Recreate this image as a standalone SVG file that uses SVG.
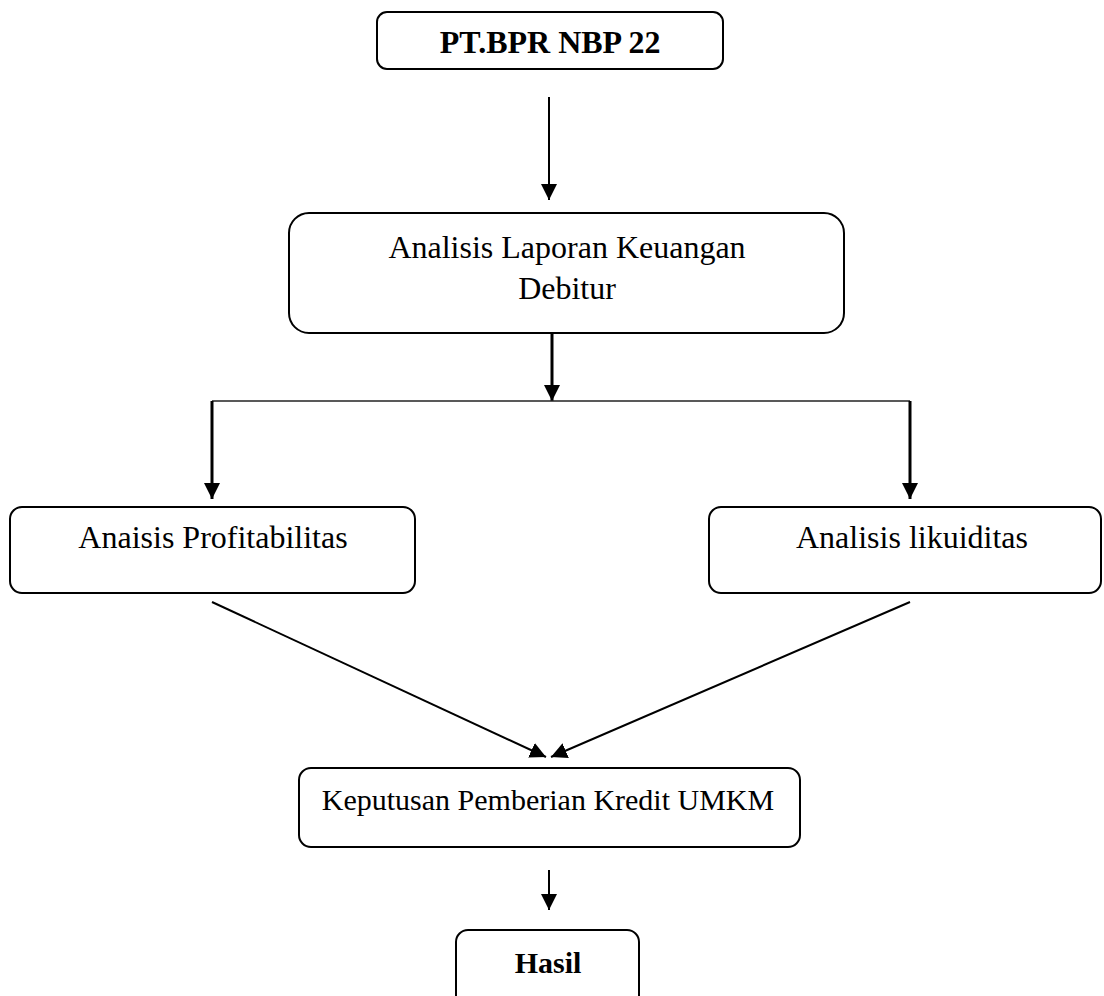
<svg xmlns="http://www.w3.org/2000/svg" width="1104" height="996" viewBox="0 0 1104 996">
<style>
.box{fill:#fff;stroke:#000;stroke-width:2}
.t{font-family:"Liberation Serif","Times New Roman",serif;font-size:32px;fill:#000;text-anchor:middle}
.b{font-weight:bold}
.c{stroke:#000;stroke-width:2;fill:none}
.c3{stroke:#000;stroke-width:3;fill:none}
.h{stroke:#222;stroke-width:1.6;fill:none}
</style>
<defs>
<marker id="ah" markerUnits="userSpaceOnUse" markerWidth="16" markerHeight="16" refX="16" refY="8" orient="auto" viewBox="0 0 16 16">
<path d="M0,0 L16,8 L0,16 z" fill="#000"/>
</marker>
</defs>
<rect width="1104" height="996" fill="#fff"/>
<g id="n-ptbpr">
<rect class="box" x="377" y="12" width="346" height="57" rx="10"/>
<text class="t b" x="550" y="53">PT.BPR NBP 22</text>
</g>
<g id="n-analisis">
<rect class="box" x="289" y="213" width="555" height="120" rx="20"/>
<text class="t" x="567" y="258">Analisis Laporan Keuangan</text>
<text class="t" x="567" y="299">Debitur</text>
</g>
<g id="n-profit">
<rect class="box" x="10" y="507" width="405" height="86" rx="12"/>
<text class="t" x="213" y="548">Anaisis Profitabilitas</text>
</g>
<g id="n-likuid">
<rect class="box" x="709" y="507" width="392" height="86" rx="12"/>
<text class="t" x="912" y="548">Analisis likuiditas</text>
</g>
<g id="n-keputusan">
<rect class="box" x="299" y="768" width="501" height="79" rx="12"/>
<text class="t" x="548" y="810" style="font-size:30px">Keputusan Pemberian Kredit UMKM</text>
</g>
<g id="n-hasil">
<rect class="box" x="456" y="930" width="183" height="90" rx="12"/>
<text class="t b" x="548" y="973" style="font-size:30px">Hasil</text>
</g>
<g id="connectors">
<line class="c" x1="549" y1="97" x2="549" y2="200" marker-end="url(#ah)"/>
<line class="c3" x1="552" y1="333" x2="552" y2="401" marker-end="url(#ah)"/>
<line class="h" x1="212" y1="401" x2="910" y2="401"/>
<line class="c3" x1="212" y1="401" x2="212" y2="499" marker-end="url(#ah)"/>
<line class="c3" x1="910" y1="401" x2="910" y2="499" marker-end="url(#ah)"/>
<line class="c" x1="212" y1="602" x2="546" y2="757" marker-end="url(#ah)"/>
<line class="c" x1="910" y1="602" x2="551" y2="757" marker-end="url(#ah)"/>
<line class="c" x1="549" y1="870" x2="549" y2="910" marker-end="url(#ah)"/>
</g>
</svg>
